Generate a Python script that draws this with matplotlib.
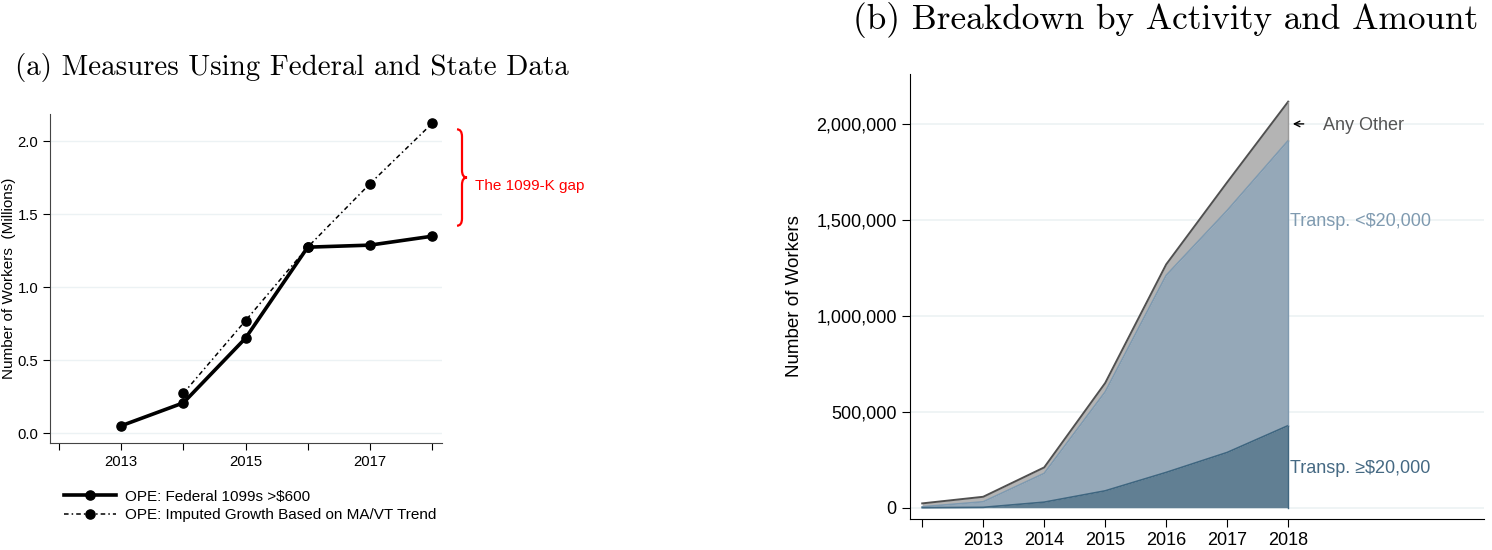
import numpy as np
import matplotlib
matplotlib.use("Agg")
import matplotlib.pyplot as plt
from matplotlib.path import Path
from matplotlib.patches import PathPatch
from matplotlib.transforms import blended_transform_factory
from matplotlib.ticker import FuncFormatter

plt.rcParams['font.family'] = ['Liberation Sans', 'DejaVu Sans']

# panel (a)
years_a = [2013, 2014, 2015, 2016, 2017, 2018]
federal = [0.05, 0.207, 0.65, 1.273, 1.287, 1.348]
years_imp = [2014, 2015, 2016, 2017, 2018]
imputed = [0.272, 0.77, 1.273, 1.707, 2.12]
xticks_a = [2012, 2013, 2014, 2015, 2016, 2017, 2018]
xlabels_a = ['', '2013', '', '2015', '', '2017', '']
yticks_a = [0.0, 0.5, 1.0, 1.5, 2.0]

# panel (b)
years_b = [2012, 2013, 2014, 2015, 2016, 2017, 2018]
transp_high = [0, 2000, 29000, 88000, 184000, 288000, 428000]
transp_low = [5000, 29000, 150000, 516000, 1027000, 1261000, 1485000]
any_other = [17500, 26000, 31000, 46000, 57000, 147000, 203000]
xticks_b = [2012, 2013, 2014, 2015, 2016, 2017, 2018]
xlabels_b = ['', '2013', '2014', '2015', '2016', '2017', '2018']
yticks_b = [0, 500000, 1000000, 1500000, 2000000]

W, H = 1492, 550
fig = plt.figure(figsize=(W / 100, H / 100), dpi=100)
grid_c = '#ecf2f4'

# ---- (a)
ax = fig.add_axes([50 / W, 1 - 443 / H, (442 - 50) / W, (443 - 114) / H])
ax.set_xlim(2011.855, 2018.16)
ax.set_ylim(-0.068, 2.185)
for y in yticks_a:
    ax.axhline(y, color=grid_c, lw=1, zorder=0)
ax.plot(years_a, federal, color='black', lw=2.6, marker='o', ms=6.6,
        label='OPE: Federal 1099s >$600', zorder=3)
ax.plot(years_imp, imputed, color='black', lw=1.1, ls=(0, (3, 2, 1, 2)),
        marker='o', ms=6.6, label='OPE: Imputed Growth Based on MA/VT Trend', zorder=2)
ax.set_xticks(xticks_a)
ax.set_xticklabels(xlabels_a)
ax.set_yticks(yticks_a)
ax.set_yticklabels(['%.1f' % v for v in yticks_a])
ax.tick_params(labelsize=10.7, length=5, width=0.8, colors='black')
ax.spines['top'].set_visible(False)
ax.spines['right'].set_visible(False)
for s in ['left', 'bottom']:
    ax.spines[s].set_color('#444444')
ax.set_ylabel('Number of Workers  (Millions)', fontsize=11)
ax.yaxis.set_label_coords(-(50 - 16) / 392, 0.5)
leg = ax.legend(loc='upper left', bbox_to_anchor=(50 / W, 1 - 476 / H),
                bbox_transform=fig.transFigure, frameon=False, fontsize=11,
                handlelength=3.4, labelspacing=0.3, handletextpad=0.6)

# the gap brace
tr = blended_transform_factory(fig.transFigure, ax.transData)
x0, x1, x2 = 457 / W, 462 / W, 467 / W
yt, ym, yb, d = 2.08, 1.75, 1.42, 0.05
verts = [(x0, yt), (x1, yt), (x1, yt - d), (x1, ym + d), (x1, ym), (x2, ym),
         (x1, ym), (x1, ym - d), (x1, yb + d), (x1, yb), (x0, yb)]
codes = [Path.MOVETO, Path.CURVE3, Path.CURVE3, Path.LINETO, Path.CURVE3, Path.CURVE3,
         Path.CURVE3, Path.CURVE3, Path.LINETO, Path.CURVE3, Path.CURVE3]
ax.add_patch(PathPatch(Path(verts, codes), transform=tr, fill=False, edgecolor='red',
                       lw=1.6, clip_on=False))
ax.text(475 / W, ym - 0.055, 'The 1099-K gap', transform=tr, color='red', fontsize=11,
        va='center', ha='left')

fig.text(15 / W, 1 - 67 / H, '(a) Measures Using Federal and State Data',
         fontfamily='cmr10', fontsize=20.9, va='center', ha='left')

# ---- (b)
bx = fig.add_axes([910 / W, 1 - 519 / H, (1484 - 910) / W, (519 - 74) / H])
bx.set_xlim(2011.80, 2021.21)
bx.set_ylim(-58800, 2260000)
for y in yticks_b:
    bx.axhline(y, color=grid_c, lw=1.2, zorder=0)
c1 = np.array(transp_high)
c2 = c1 + np.array(transp_low)
c3 = c2 + np.array(any_other)
bx.fill_between(years_b, c2, c3, color='#b4b4b4', lw=0, zorder=2)
bx.fill_between(years_b, c1, c2, color='#95a8b8', lw=0, zorder=2)
bx.fill_between(years_b, 0, c1, color='#617f93', lw=0, zorder=2)
bx.plot(years_b, c3, color='#505050', lw=1.4, zorder=3)
bx.plot(years_b, c2, color='#7f9ab0', lw=1.2, zorder=3)
bx.plot(years_b, c1, color='#3f6680', lw=1.2, zorder=3)
bx.plot([years_b[-1]] * 2, [c2[-1], c3[-1]], color='#9a9a9a', lw=1, zorder=3)
bx.plot([years_b[-1]] * 2, [c1[-1], c2[-1]], color='#7f9ab0', lw=1, zorder=3)
bx.plot([years_b[-1]] * 2, [0, c1[-1]], color='#3f6680', lw=1, zorder=3)
bx.set_xticks(xticks_b)
bx.set_xticklabels(xlabels_b)
bx.set_yticks(yticks_b)
bx.yaxis.set_major_formatter(FuncFormatter(lambda v, p: '{:,.0f}'.format(v)))
bx.tick_params(labelsize=13, length=6, width=0.8, colors='black')
bx.spines['top'].set_visible(False)
bx.spines['right'].set_visible(False)
bx.set_ylabel('Number of Workers', fontsize=13.5)
bx.yaxis.set_label_coords(-(910 - 803) / 574, 0.5)

bx.annotate('', xy=(2018.03, 2000000), xytext=(2018.3, 2000000),
            arrowprops=dict(arrowstyle='->', color='black', lw=1))
bx.text(2018.57, 1990000, 'Any Other', color='#555555', fontsize=13, va='center')
bx.text(2018.03, 1490000, 'Transp. <$20,000', color='#7f9ab0', fontsize=13, va='center')
bx.text(2018.03, 205000, 'Transp. \u2265$20,000', color='#456983', fontsize=13, va='center')

fig.text(853 / W, 1 - 20 / H, '(b) Breakdown by Activity and Amount',
         fontfamily='cmr10', fontsize=25.4, va='center', ha='left')

fig.savefig('out.png', dpi=100, facecolor='white')
